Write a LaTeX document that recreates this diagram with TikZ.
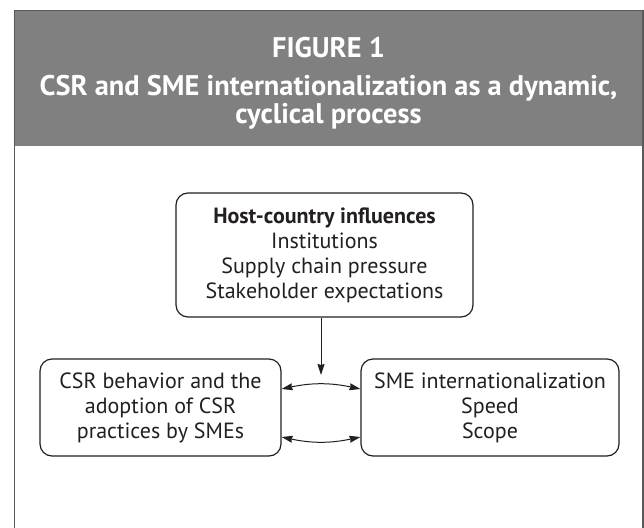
\documentclass[tikz,border=0pt]{standalone}
\usepackage{fontspec}
\setmainfont{PT Sans}
\usetikzlibrary{arrows.meta,calc}
\definecolor{headgray}{HTML}{7F807F}
\definecolor{framegray}{HTML}{5A5A5A}
\definecolor{ink}{HTML}{231F20}
\begin{document}
\begin{tikzpicture}[x=1pt,y=-1pt,
  titletext/.style={text=white,font=\fontsize{28.4}{30}\selectfont\bfseries,inner sep=0pt,anchor=base},
  procbox/.style={draw=ink,line width=1.2pt,rounded corners=12pt,inner sep=0pt,align=center,text=ink,
    font=\fontsize{22}{25}\selectfont},
  arr/.style={draw=ink,line width=1pt,-{Stealth[length=11pt,width=7pt,inset=1pt]}},
  dblarr/.style={draw=ink,line width=1pt,{Stealth[length=11pt,width=7pt,inset=1pt]}-{Stealth[length=11pt,width=7pt,inset=1pt]}}
]
\path[use as bounding box] (0,0) rectangle (644,527);
\fill[headgray] (14.5,10.5) rectangle (643,146);
\draw[framegray,line width=1.3pt] (14.5,540) -- (14.5,10.5) -- (643,10.5) -- (643,540);
\node[titletext] (t1) at (328.5,57) {FIGURE 1};
\node[titletext] (t2) at (328.5,95) {CSR and SME internationalization as a dynamic,};
\node[titletext] (t3) at (328.5,123) {cyclical process};

\node[procbox,minimum width=297pt,minimum height=124pt] (host) at (324.5,255)
  {\textbf{Host-country influences}\\Institutions\\Supply chain pressure\\Stakeholder expectations};
\node[procbox,minimum width=241pt,minimum height=97pt] (csr) at (160.5,407.5)
  {CSR behavior and the\\adoption of CSR\\practices by SMEs};
\node[procbox,minimum width=258pt,minimum height=97pt] (sme) at (490,407.5)
  {SME internationalization\\Speed\\Scope};

\coordinate (tip) at (321,375);
\coordinate (upper) at (0,389);
\coordinate (lower) at (0,437);
\draw[arr] (tip |- host.south) -- (tip);
\draw[dblarr] (csr.east |- upper) to[bend left=12] (sme.west |- upper);
\draw[dblarr] (csr.east |- lower) to[bend right=12] (sme.west |- lower);
\end{tikzpicture}
\end{document}
